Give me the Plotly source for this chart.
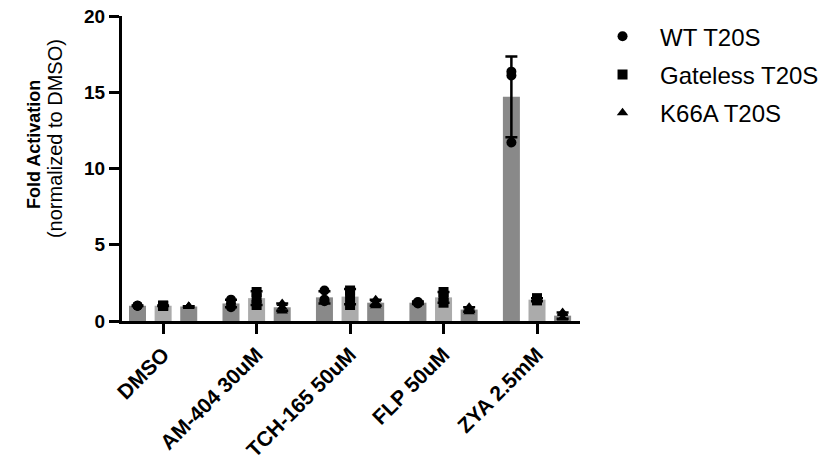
import plotly.graph_objects as go

categories = ["DMSO", "AM-404 30uM", "TCH-165 50uM", "FLP 50uM", "ZYA 2.5mM"]

wt_mean = [1.0, 1.15, 1.55, 1.2, 14.7]
gateless_mean = [1.0, 1.5, 1.6, 1.55, 1.4]
k66a_mean = [0.95, 0.9, 1.2, 0.75, 0.35]

wt_sd = [0.02, 0.25, 0.4, 0.08, 2.65]
gateless_sd = [0.02, 0.45, 0.5, 0.35, 0.1]
k66a_sd = [0.02, 0.25, 0.2, 0.15, 0.2]

wt_points = [[1.0, 1.0, 1.0], [0.9, 1.15, 1.4], [1.3, 1.4, 2.0], [1.15, 1.25, 1.2], [16.35, 16.1, 11.7]]
gateless_points = [[1.0, 1.0, 1.0], [1.05, 1.5, 1.9], [1.05, 1.7, 2.0], [1.2, 1.6, 1.9], [1.35, 1.5, 1.4]]
k66a_points = [[0.95, 0.95, 0.95], [0.65, 0.9, 1.15], [1.0, 1.2, 1.4], [0.6, 0.8, 0.9], [0.2, 0.5, 0.55]]

series_names = ["WT T20S", "Gateless T20S", "K66A T20S"]
bar_colors = ["#898989", "#ababab", "#898989"]
symbols = ["circle", "square", "triangle-up"]

means = [wt_mean, gateless_mean, k66a_mean]
sds = [wt_sd, gateless_sd, k66a_sd]
points = [wt_points, gateless_points, k66a_points]

FONT = "Liberation Sans, Arial"

fig = go.Figure()
for i in range(3):
    fig.add_trace(go.Bar(
        x=categories, y=means[i], name=series_names[i], showlegend=False,
        marker=dict(color=bar_colors[i], line=dict(width=0)),
        offsetgroup=str(i),
        error_y=dict(type="data", array=sds[i], visible=True, color="black",
                     thickness=2.5, width=6),
    ))
for i in range(3):
    xs, ys = [], []
    for c, pts in zip(categories, points[i]):
        for p in pts:
            xs.append(c)
            ys.append(p)
    fig.add_trace(go.Scatter(
        x=xs, y=ys, mode="markers", name=series_names[i],
        offsetgroup=str(i), legendgroup=str(i),
        marker=dict(symbol=symbols[i], color="black", size=10,
                    line=dict(width=0)),
    ))

fig.add_annotation(text="<b>Fold Activation</b>", textangle=-90,
                   xref="paper", yref="paper", x=-0.192, y=0.577,
                   xanchor="center", yanchor="middle", showarrow=False,
                   font=dict(size=18, family=FONT, color="black"))
fig.add_annotation(text="(normalized to DMSO)", textangle=-90,
                   xref="paper", yref="paper", x=-0.146, y=0.597,
                   xanchor="center", yanchor="middle", showarrow=False,
                   font=dict(size=20, family=FONT, color="black"))

fig.update_layout(
    width=831, height=470,
    margin=dict(l=122, r=251, t=16, b=149, autoexpand=False),
    plot_bgcolor="white", paper_bgcolor="white",
    barmode="group", bargap=0.178, bargroupgap=0.336,
    scattermode="group", scattergap=0.178,
    font=dict(family=FONT, color="black"),
    legend=dict(x=1.011, y=1.006, xanchor="left", yanchor="top",
                font=dict(size=24), tracegroupgap=4, itemwidth=65,
                traceorder="grouped", itemsizing="trace"),
    xaxis=dict(range=[-0.44, 4.46], showline=True, linecolor="black", linewidth=3,
               ticks="outside", ticklen=10, tickwidth=3, tickcolor="black",
               tickangle=-45, tickfont=dict(size=21, family=FONT),
               showgrid=False, zeroline=False, automargin=False,
               ticktext=["<b>" + c + "</b>" for c in categories],
               tickvals=categories),
    yaxis=dict(range=[0, 20], tickvals=[0, 5, 10, 15, 20],
               ticktext=["<b>0</b>", "<b>5</b>", "<b>10</b>", "<b>15</b>", "<b>20</b>"],
               showline=True, linecolor="black", linewidth=3,
               ticks="outside", ticklen=10, tickwidth=3, tickcolor="black",
               tickfont=dict(size=19), showgrid=False, zeroline=False, automargin=False),
)

fig.write_html("out.html", config={"displayModeBar": False},
               post_script="document.body.style.margin='0';document.body.style.overflow='hidden';")
